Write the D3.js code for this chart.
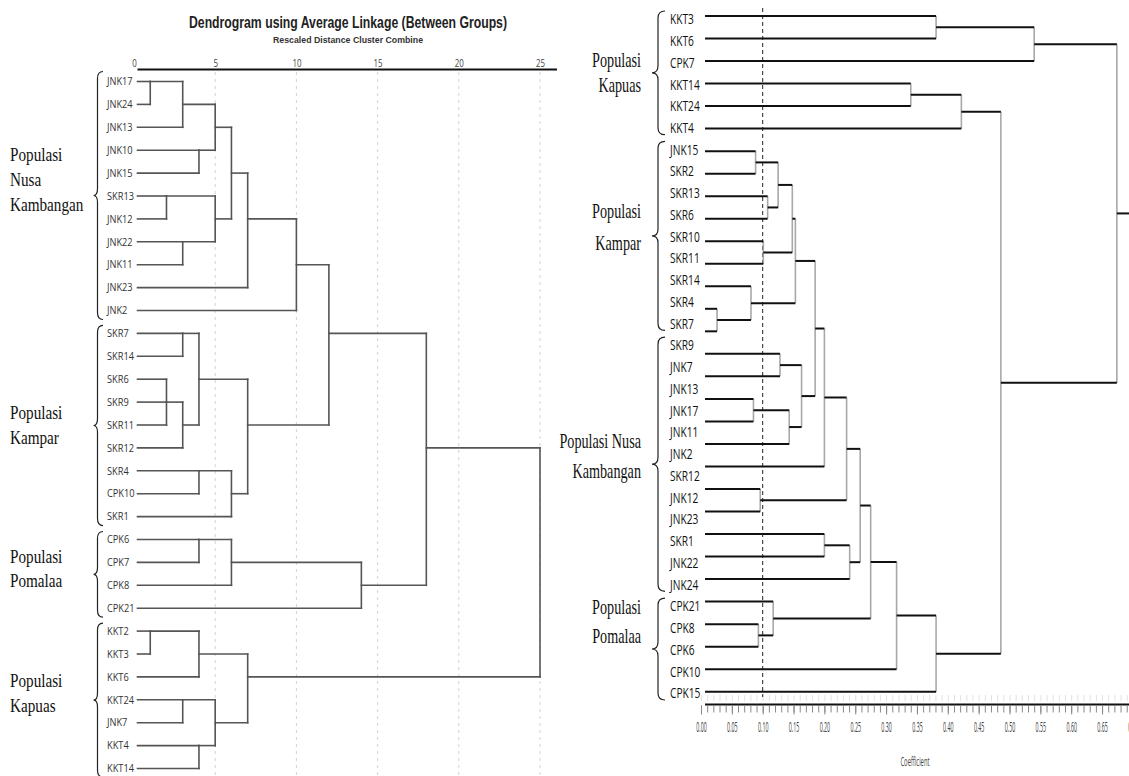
<!DOCTYPE html>
<html><head><meta charset="utf-8">
<script src="https://cdn.jsdelivr.net/npm/d3@7"></script>
<style>body{margin:0;background:#fff}svg{display:block}</style>
</head><body>
<svg id="chart" width="1129" height="776"></svg>
<script>
// ================= LEFT DENDROGRAM DATA (SPSS, average linkage) =================
const leftTitle = "Dendrogram using Average Linkage (Between Groups)";
const leftSubtitle = "Rescaled Distance Cluster Combine";
const leftTicks = [0, 5, 10, 15, 20, 25];
const leftLeaves = ["JNK17","JNK24","JNK13","JNK10","JNK15","SKR13","JNK12","JNK22","JNK11","JNK23","JNK2",
  "SKR7","SKR14","SKR6","SKR9","SKR11","SKR12","SKR4","CPK10","SKR1",
  "CPK6","CPK7","CPK8","CPK21",
  "KKT2","KKT3","KKT6","KKT24","JNK7","KKT4","KKT14"];
// cluster = [rescaled distance, ...members]
const leftNusa = [10, [7, [6, [5, [3, [1, "JNK17", "JNK24"], "JNK13"], [4, "JNK10", "JNK15"]],
                              [5, [2, "SKR13", "JNK12"], [3, "JNK22", "JNK11"]]], "JNK23"], "JNK2"];
const leftKampar = [7, [4, [3, "SKR7", "SKR14"], [3, [2, "SKR6", "SKR9", "SKR11"], "SKR12"]],
                       [6, [4, "SKR4", "CPK10"], "SKR1"]];
const leftPomalaa = [14, [6, [4, "CPK6", "CPK7"], "CPK8"], "CPK21"];
const leftKapuas = [7, [4, [1, "KKT2", "KKT3"], "KKT6"], [5, [3, "KKT24", "JNK7"], [4, "KKT4", "KKT14"]]];
const leftJoins = [12, 18, 25];
const leftGroupLines = [["Populasi","Nusa","Kambangan"], ["Populasi","Kampar"], ["Populasi","Pomalaa"], ["Populasi","Kapuas"]];
const leftGroupFirst = ["JNK17","SKR7","CPK6","KKT2"];
const leftGroupLast = ["JNK2","SKR1","CPK21","KKT14"];

// ================= RIGHT DENDROGRAM DATA (coefficient) =================
const rightLeafLabels = ["KKT3","KKT6","CPK7","KKT14","KKT24","KKT4",
  "JNK15","SKR2","SKR13","SKR6","SKR10","SKR11","SKR14","SKR4","SKR7",
  "SKR9","JNK7","JNK13","JNK17","JNK11","JNK2","SKR12","JNK12","JNK23","SKR1","JNK22","JNK24",
  "CPK21","CPK8","CPK6","CPK10","CPK15"];
const rightBranchCount = 31;
const rightTicks = [0,0.05,0.10,0.15,0.20,0.25,0.30,0.35,0.40,0.45,0.50,0.55,0.60,0.65,0.70];
const rightKapuasA = [0.540, [0.381, 0, 1], 2];
const rightKapuasB = [0.422, [0.340, 3, 4], 5];
const rightKampar = [0.153, [0.148, [0.125, [0.0885, 6, 7], [0.108, 8, 9]], [0.101, 10, 11]], [0.081, 12, [0.026, 13, 14]]];
const rightNusa1 = [0.163, [0.128, 15, 16], [0.143, [0.085, 17, 18], 19]];
const rightNusa2 = [0.096, 21, 22];
const rightNusa3 = [0.241, [0.200, 23, 24], 25];
const rightPomalaa = [0.117, 26, [0.093, 27, 28]];
const rightJoins = [0.185, 0.200, 0.236, 0.258, 0.275, 0.317, 0.381, 0.486, 0.674];
const rightGroupLines = [["Populasi","Kapuas"], ["Populasi","Kampar"], ["Populasi Nusa","Kambangan"], ["Populasi","Pomalaa"]];
const rightGroupFirst = ["KKT3","JNK15","SKR9","CPK21"];
const rightGroupLast = ["KKT4","SKR7","JNK24","CPK15"];
const rightCutoff = 0.10;

// ================= HELPERS =================
const svg = d3.select("#chart");
svg.append("rect").attr("width", 1129).attr("height", 776).attr("fill", "#fff");

function stext(parent, x, y, str, o) {
  return parent.append("text")
    .attr("transform", `translate(${x},${y}) scale(${o.sx || 1},1)`)
    .attr("text-anchor", o.anchor || "start")
    .attr("font-family", o.font || "'Open Sans', sans-serif")
    .attr("font-size", o.size || 10)
    .attr("font-weight", o.weight || "normal")
    .attr("fill", o.fill || "#222")
    .text(str);
}
function brace(parent, y1, y2, xt, xb, xe) {
  const ym = (y1 + y2) / 2, r = Math.min(7, (y2 - y1) / 6);
  const p = `M${xe},${y1} Q${xb},${y1} ${xb},${y1 + r} L${xb},${ym - r} Q${xb},${ym} ${xt},${ym} ` +
            `Q${xb},${ym} ${xb},${ym + r} L${xb},${y2 - r} Q${xb},${y2} ${xe},${y2}`;
  parent.append("path").attr("d", p).attr("fill", "none").attr("stroke", "#222").attr("stroke-width", 1.2);
}

// ================= LEFT CHART =================
const xL = d3.scaleLinear().domain([0, 25]).range([134, 540]);
const yL = d3.scalePoint().domain(leftLeaves).range([81.5, 768.5]);
const L = svg.append("g");

L.selectAll("line.grid").data(leftTicks.filter(t => t > 0)).join("line")
  .attr("x1", d => xL(d)).attr("x2", d => xL(d)).attr("y1", 72).attr("y2", 776)
  .attr("stroke", "#d2d2d2").attr("stroke-width", 1).attr("stroke-dasharray", "3,4");

L.append("text").attr("x", 348).attr("y", 28).attr("text-anchor", "middle")
  .attr("font-family", "'Liberation Sans', Arial, sans-serif").attr("font-weight", "bold").attr("font-size", 17)
  .attr("fill", "#222").attr("textLength", 318).attr("lengthAdjust", "spacingAndGlyphs").text(leftTitle);
L.append("text").attr("x", 348).attr("y", 43).attr("text-anchor", "middle")
  .attr("font-family", "'Liberation Sans', Arial, sans-serif").attr("font-weight", "bold").attr("font-size", 9.5)
  .attr("fill", "#333").attr("textLength", 150).attr("lengthAdjust", "spacingAndGlyphs").text(leftSubtitle);

const axL = d3.axisTop(xL).tickValues(leftTicks).tickSize(0).tickPadding(3);
const gaxL = L.append("g").attr("transform", "translate(0,69.5)").call(axL);
gaxL.select(".domain").remove();
gaxL.selectAll("text").attr("font-family", "'Open Sans', sans-serif").attr("font-size", 11)
  .attr("fill", "#444").attr("transform", "scale(0.72,1)");
L.append("line").attr("x1", 137.5).attr("x2", 557).attr("y1", 69.5).attr("y2", 69.5)
  .attr("stroke", "#111").attr("stroke-width", 2);

const leafStartL = xL(0) + 3.5;
const segL = [];
function drawSPSS(node) {
  if (typeof node === "string") return { row: leftLeaves.indexOf(node), x: leafStartL };
  const [d, ...kids] = node;
  const xd = xL(d);
  const ch = kids.map(drawSPSS);
  ch.forEach(c => { const y = yL(leftLeaves[c.row]); segL.push([c.x, y, xd, y]); });
  const rows = ch.map(c => c.row), r0 = d3.min(rows), r1 = d3.max(rows);
  segL.push([xd, yL(leftLeaves[r0]), xd, yL(leftLeaves[r1])]);
  return { row: Math.floor((r0 + r1) / 2), x: xd };
}
const leftTree = [leftJoins[2], [leftJoins[1], [leftJoins[0], leftNusa, leftKampar], leftPomalaa], leftKapuas];
drawSPSS(leftTree);
L.selectAll("line.branch").data(segL).join("line")
  .attr("x1", d => d[0]).attr("y1", d => d[1]).attr("x2", d => d[2]).attr("y2", d => d[3])
  .attr("stroke", "#555").attr("stroke-width", 1.6).attr("stroke-linecap", "square");

leftLeaves.forEach(n => stext(L, 107, yL(n) + 3.7, n, { size: 10.5, sx: 0.88, fill: "#333" }));

const leftLabelCenters = [[155, 180, 205], [413, 438], [557, 581], [681, 706]];
leftGroupLines.forEach((lines, i) => {
  const y1 = yL(leftGroupFirst[i]) - 8, y2 = Math.min(yL(leftGroupLast[i]) + 9, 778);
  brace(L, i === 0 ? y1 - 2 : y1, i === 3 ? 777 : y2, 93.6, 97.5, 103);
  lines.forEach((t, j) => stext(L, 10, leftLabelCenters[i][j] + 6.3, t,
    { font: "'Liberation Serif', 'Times New Roman', serif", size: 19, sx: 0.8, fill: "#111" }));
});

// ================= RIGHT CHART =================
const xR = d3.scaleLinear().domain([0, 0.65]).range([701, 1102.05]);
const yR = d3.scalePoint().domain(d3.range(rightBranchCount)).range([16, 691.7]);
const yRL = d3.scalePoint().domain(rightLeafLabels).range([19, 693]);
const R = svg.append("g");

// faint ghost tick strip above axis
const axGhost = d3.axisTop(xR).tickValues(d3.range(0, 0.7001, 0.01)).tickSize(6).tickFormat("");
const gGhost = R.append("g").attr("transform", "translate(0,701)").call(axGhost);
gGhost.select(".domain").remove();
gGhost.selectAll("line").attr("stroke", "#e2e2e2");

R.append("line").attr("x1", xR(rightCutoff)).attr("x2", xR(rightCutoff)).attr("y1", 8).attr("y2", 697)
  .attr("stroke", "#222").attr("stroke-width", 1).attr("stroke-dasharray", "4,3");

const hR = [], vR = [];
const leafStartR = xR(0) + 4;
function drawNT(node) {
  if (typeof node === "number") return { y: yR(node), x: leafStartR };
  const [v, ...kids] = node;
  const xv = xR(v);
  const ch = kids.map(drawNT);
  ch.forEach(c => hR.push([c.x, c.y, xv, c.y]));
  const ys = ch.map(c => c.y);
  vR.push([xv, d3.min(ys), xv, d3.max(ys)]);
  return { y: d3.mean(ys), x: xv };
}
const rightTree = [rightJoins[8], rightKapuasA,
  [rightJoins[7], rightKapuasB,
    [rightJoins[6], [rightJoins[5], [rightJoins[4], [rightJoins[3], [rightJoins[2], [rightJoins[1],
      [rightJoins[0], rightKampar, rightNusa1], 20], rightNusa2], rightNusa3], rightPomalaa], 29], 30]]];
const rootR = drawNT(rightTree);
hR.push([rootR.x, rootR.y, 1129, rootR.y]);

R.selectAll("line.v").data(vR).join("line")
  .attr("x1", d => d[0]).attr("y1", d => d[1]).attr("x2", d => d[2]).attr("y2", d => d[3])
  .attr("stroke", "#a8a8a8").attr("stroke-width", 1.6);
R.selectAll("line.h").data(hR).join("line")
  .attr("x1", d => d[0]).attr("y1", d => d[1]).attr("x2", d => d[2]).attr("y2", d => d[3])
  .attr("stroke", "#111").attr("stroke-width", 2);

rightLeafLabels.forEach(n => stext(R, 670, yRL(n) + 5.3, n, { size: 15, sx: 0.68, fill: "#111" }));

const rightLabelCenters = [[60, 85], [211.7, 243.3], [441.7, 471.7], [607.3, 636.7]];
rightGroupLines.forEach((lines, i) => {
  const y1 = yRL(rightGroupFirst[i]) - 8, y2 = yRL(rightGroupLast[i]) + 7;
  brace(R, y1, y2, 652, 658, 665);
  lines.forEach((t, j) => stext(R, 641, rightLabelCenters[i][j] + 6.5, t,
    { font: "'Liberation Serif', 'Times New Roman', serif", size: 20, sx: 0.71, anchor: "end", fill: "#111" }));
});

// axis
R.append("line").attr("x1", xR(0) + 4).attr("x2", 1129).attr("y1", 704.5).attr("y2", 704.5)
  .attr("stroke", "#111").attr("stroke-width", 2);
const axMinor = d3.axisBottom(xR).tickValues(d3.range(0, 0.7001, 0.01)).tickSize(7).tickFormat("");
const gMinor = R.append("g").attr("transform", "translate(0,705.5)").call(axMinor);
gMinor.select(".domain").remove();
gMinor.selectAll("line").attr("stroke", "#888");
const axMajor = d3.axisBottom(xR).tickValues(rightTicks).tickSize(9).tickPadding(8).tickFormat(d3.format(".2f"));
const gMajor = R.append("g").attr("transform", "translate(0,705.5)").call(axMajor);
gMajor.select(".domain").remove();
gMajor.selectAll("line").attr("stroke", "#888");
gMajor.selectAll("text").attr("font-family", "'Open Sans', sans-serif").attr("font-size", 14)
  .attr("fill", "#444").attr("transform", "scale(0.38,1)");
stext(R, 915, 766, "Coefficient", { size: 13, sx: 0.45, anchor: "middle", fill: "#444" });
</script>
</body></html>
